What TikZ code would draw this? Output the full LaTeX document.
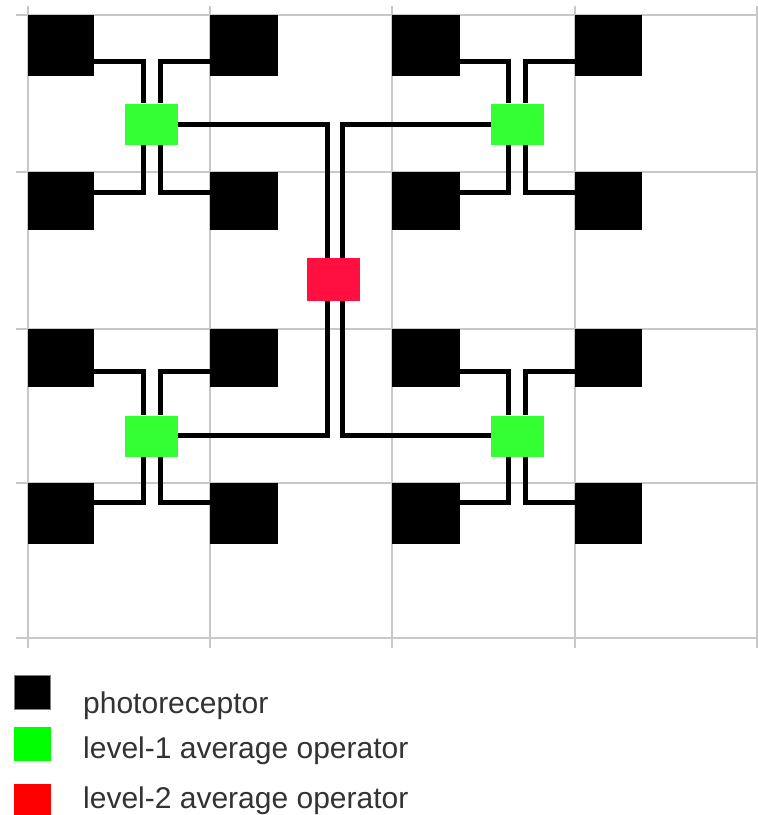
\documentclass[tikz,border=0pt]{standalone}
\usepackage{fontspec}
\setmainfont{Liberation Sans}
\definecolor{gridgray}{HTML}{C8C8C8}
\definecolor{opgreen}{HTML}{33FF33}
\definecolor{opred}{HTML}{FF1040}
\definecolor{txtgray}{HTML}{333333}
\begin{document}
\begin{tikzpicture}[x=1pt,y=-1pt,
  gridline/.style={draw=gridgray,line width=2pt},
  photo/.style={fill=black,draw=none,inner sep=0pt,minimum width=#1},
  photo/.default=67pt,
  greenop/.style={fill=opgreen,draw=none,inner sep=0pt,minimum width=53pt,minimum height=41pt},
  redop/.style={fill=opred,draw=none,inner sep=0pt,minimum width=53pt,minimum height=43pt},
  wire/.style={draw=black,line width=5pt,line join=miter},
  legtext/.style={anchor=base west,inner sep=0pt,text=txtgray,font=\fontsize{30}{36}\selectfont}]
\useasboundingbox[fill=white] (0,0) rectangle (758,815);
% grid
\foreach \gx in {28,210,392,575,757}{\draw[gridline] (\gx,6) -- (\gx,648);}
\foreach \gy in {15,172,329,483,638}{\draw[gridline] (16,\gy) -- (758,\gy);}
% photoreceptors
\node[photo=66pt,minimum height=61pt] (a1) at (61,45.5) {};
\node[photo=68pt,minimum height=61pt] (a2) at (244,45.5) {};
\node[photo=66pt,minimum height=58pt] (a3) at (61,201) {};
\node[photo=68pt,minimum height=58pt] (a4) at (244,201) {};
\node[photo=68pt,minimum height=61pt] (b1) at (426,45.5) {};
\node[photo=67pt,minimum height=61pt] (b2) at (608.5,45.5) {};
\node[photo=68pt,minimum height=58pt] (b3) at (426,201) {};
\node[photo=67pt,minimum height=58pt] (b4) at (608.5,201) {};
\node[photo=66pt,minimum height=58pt] (c1) at (61,358) {};
\node[photo=68pt,minimum height=58pt] (c2) at (244,358) {};
\node[photo=66pt,minimum height=61pt] (c3) at (61,513.5) {};
\node[photo=68pt,minimum height=61pt] (c4) at (244,513.5) {};
\node[photo=68pt,minimum height=58pt] (d1) at (426,358) {};
\node[photo=67pt,minimum height=58pt] (d2) at (608.5,358) {};
\node[photo=68pt,minimum height=61pt] (d3) at (426,513.5) {};
\node[photo=67pt,minimum height=61pt] (d4) at (608.5,513.5) {};
% level-1 operators
\node[greenop] (ga) at (151.5,124) {};
\node[greenop] (gb) at (517.5,124) {};
\node[greenop] (gc) at (151.5,436) {};
\node[greenop] (gd) at (517.5,436) {};
% level-2 operator
\node[redop] (r) at (333.5,279.5) {};
% wire guide coordinates
\coordinate (ta) at (143,61);   \coordinate (ua) at (160.5,192);
\coordinate (tb) at (508.5,61); \coordinate (ub) at (525.5,192);
\coordinate (tc) at (143,371.5);   \coordinate (uc) at (160.5,502.5);
\coordinate (td) at (508.5,371.5); \coordinate (ud) at (525.5,502.5);
\coordinate (ra) at (327,124.5); \coordinate (rb) at (342.5,435.5);
% group wires
\foreach \g in {a,b,c,d}{
  \draw[wire] (\g1.east |- t\g) -| (g\g.north -| t\g);
  \draw[wire] (\g2.west |- t\g) -| (g\g.north -| u\g);
  \draw[wire] (g\g.south -| t\g) |- (\g3.east |- u\g);
  \draw[wire] (g\g.south -| u\g) |- (\g4.west |- u\g);
}
% level-1 to level-2 wires
\draw[wire] (ga.east |- ra) -| (r.north -| ra);
\draw[wire] (gb.west |- ra) -| (r.north -| rb);
\draw[wire] (r.south -| ra) |- (gc.east |- rb);
\draw[wire] (r.south -| rb) |- (gd.west |- rb);
% legend
\node[fill=black,draw=gray,line width=1pt,inner sep=0pt,minimum width=36pt,minimum height=34pt] (l1) at (32.5,692.5) {};
\node[fill=green,inner sep=0pt,minimum width=37pt,minimum height=34pt] (l2) at (32.5,744) {};
\node[fill=red,inner sep=0pt,minimum width=37pt,minimum height=31pt] (l3) at (32.5,799.5) {};
\node[legtext] (t1) at (83,713) {photoreceptor};
\node[legtext] (t2) at (83,758) {level-1 average operator};
\node[legtext] (t3) at (83,808) {level-2 average operator};
\end{tikzpicture}
\end{document}
